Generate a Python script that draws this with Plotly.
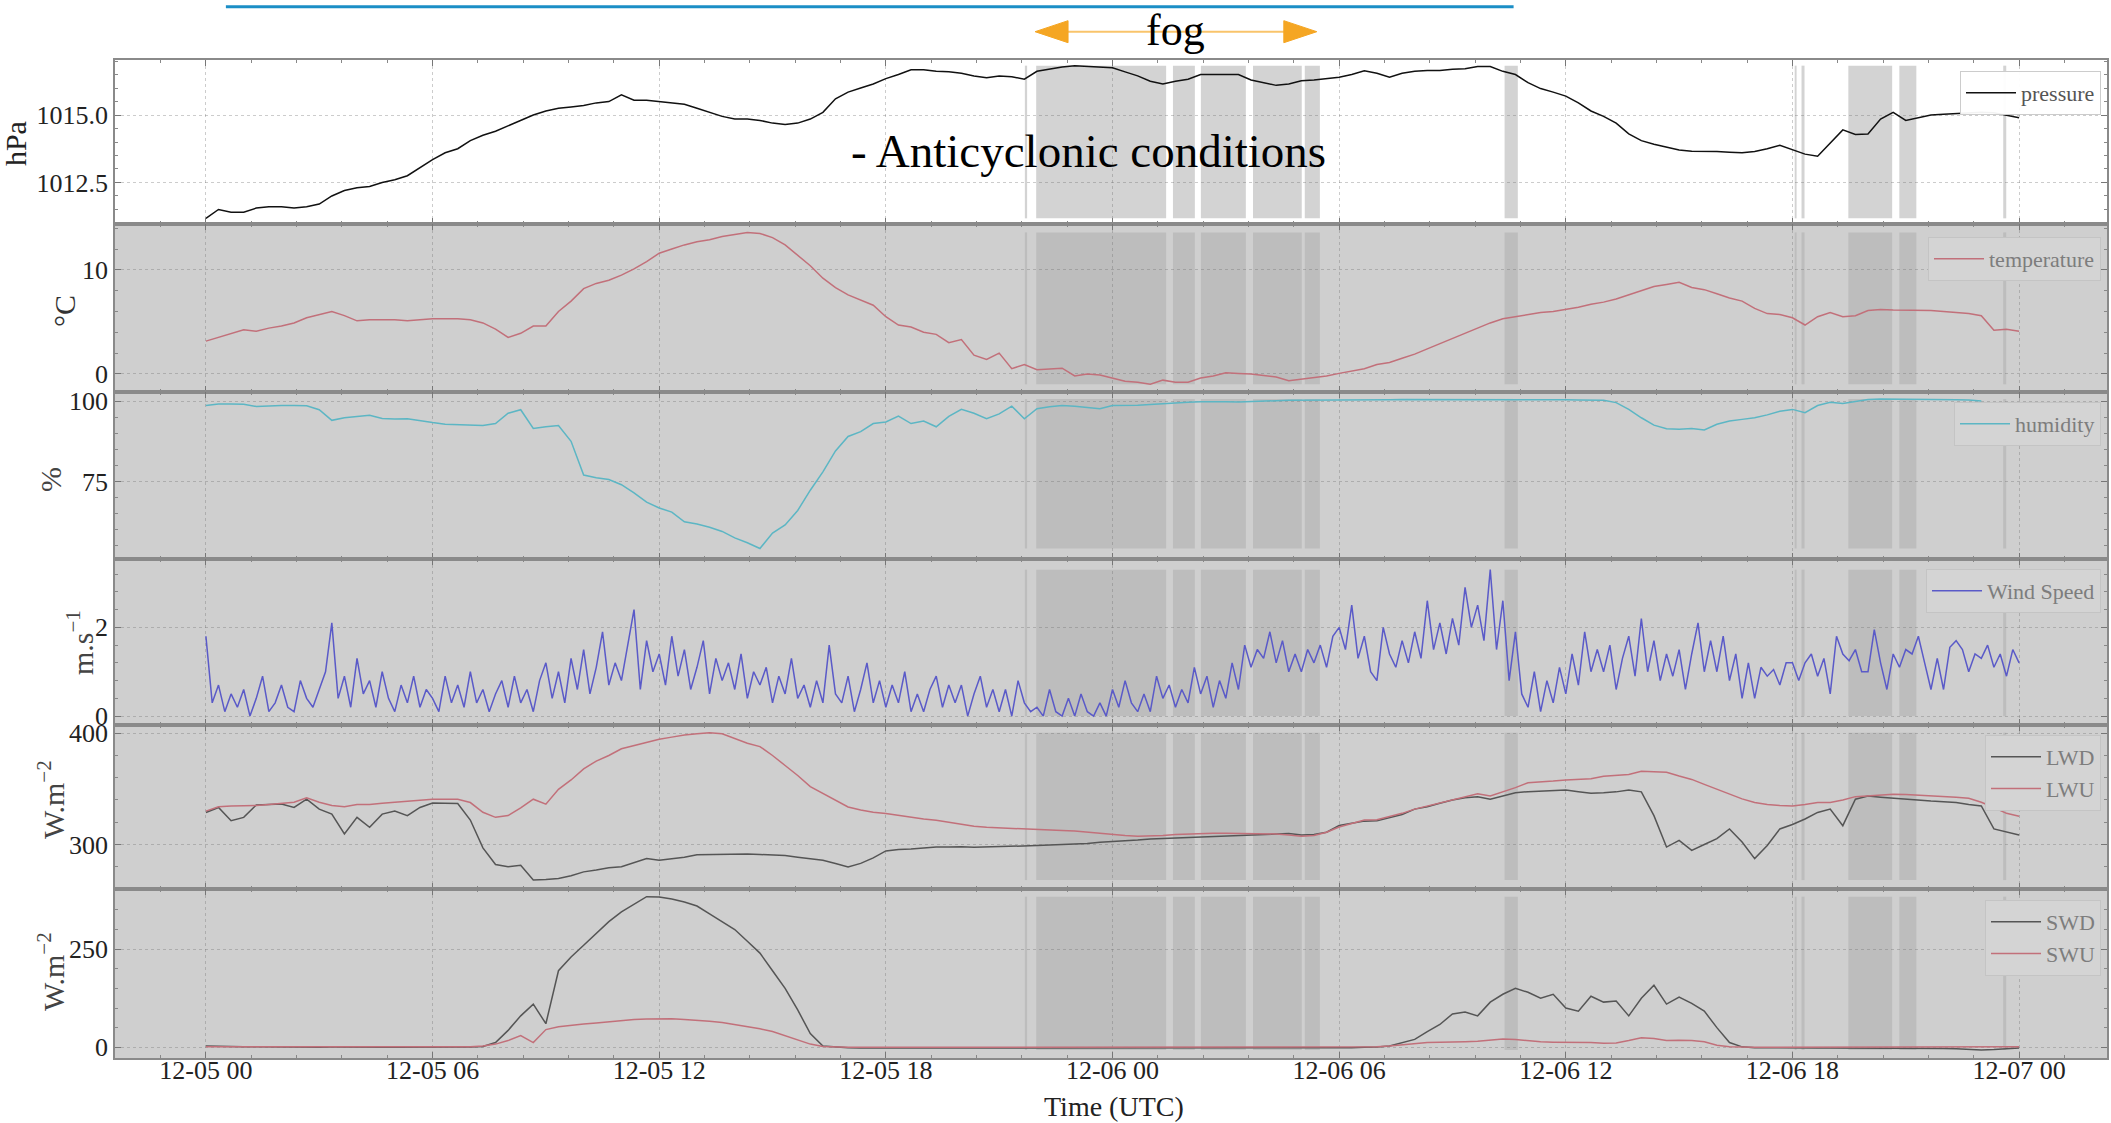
import numpy as np
import pandas as pd
import plotly.graph_objects as go
from plotly.subplots import make_subplots

# ---------------- data ----------------
# 20-minute samples starting 2016-12-05 00:00 (rows = hours)
pressure = [
    1011.17, 1011.50, 1011.40,   # 0
    1011.40, 1011.55, 1011.60,   # 1
    1011.60, 1011.55, 1011.60,   # 2
    1011.70, 1012.00, 1012.20,   # 3
    1012.30, 1012.35, 1012.50,   # 4
    1012.60, 1012.75, 1013.05,   # 5
    1013.35, 1013.60, 1013.75,   # 6
    1014.05, 1014.25, 1014.40,   # 7
    1014.60, 1014.80, 1015.00,   # 8
    1015.15, 1015.25, 1015.30,   # 9
    1015.35, 1015.45, 1015.50,   # 10
    1015.75, 1015.55, 1015.55,   # 11
    1015.50, 1015.45, 1015.40,   # 12
    1015.25, 1015.10, 1014.95,   # 13
    1014.85, 1014.85, 1014.80,   # 14
    1014.70, 1014.65, 1014.70,   # 15
    1014.85, 1015.10, 1015.60,   # 16
    1015.85, 1016.00, 1016.15,   # 17
    1016.35, 1016.50, 1016.68,   # 18
    1016.68, 1016.62, 1016.60,   # 19
    1016.55, 1016.45, 1016.38,   # 20
    1016.45, 1016.42, 1016.33,   # 21
    1016.62, 1016.70, 1016.78,   # 22
    1016.83, 1016.80, 1016.77,   # 23
    1016.75, 1016.60, 1016.45,   # 24
    1016.25, 1016.15, 1016.25,   # 25
    1016.33, 1016.50, 1016.50,   # 26
    1016.50, 1016.50, 1016.30,   # 27
    1016.20, 1016.10, 1016.15,   # 28
    1016.27, 1016.30, 1016.35,   # 29
    1016.40, 1016.50, 1016.64,   # 30
    1016.55, 1016.40, 1016.55,   # 31
    1016.62, 1016.65, 1016.65,   # 32
    1016.70, 1016.72, 1016.80,   # 33
    1016.80, 1016.62, 1016.50,   # 34
    1016.20, 1015.98, 1015.85,   # 35
    1015.70, 1015.45, 1015.15,   # 36
    1014.95, 1014.70, 1014.30,   # 37
    1014.05, 1013.92, 1013.82,   # 38
    1013.70, 1013.66, 1013.66,   # 39
    1013.65, 1013.62, 1013.60,   # 40
    1013.65, 1013.75, 1013.88,   # 41
    1013.72, 1013.55, 1013.47,   # 42
    1013.95, 1014.45, 1014.28,   # 43
    1014.30, 1014.85, 1015.10,   # 44
    1014.80, 1014.90, 1015.00,   # 45
    1015.03, 1015.05, 1015.08,   # 46
    1015.10, 1015.08, 1015.00,   # 47
    1014.90]                     # 48

temperature = [
    3.15, 3.5, 3.9,    4.25, 4.1, 4.4,    4.6, 4.9, 5.4,    5.7, 6.0, 5.6,     # 0-3
    5.1, 5.2, 5.2,     5.2, 5.1, 5.2,     5.3, 5.3, 5.3,    5.2, 4.9, 4.3,     # 4-7
    3.5, 3.9, 4.6,     4.6, 6.0, 7.0,     8.2, 8.7, 9.0,    9.5, 10.1, 10.8,   # 8-11
    11.6, 12.0, 12.4,  12.7, 12.9, 13.2,  13.4, 13.6, 13.5, 13.1, 12.4, 11.4,  # 12-15
    10.4, 9.2, 8.3,    7.6, 7.1, 6.6,     5.5, 4.7, 4.5,    4.0, 3.8, 3.0,     # 16-19
    3.3, 1.8, 1.4,     2.0, 0.5, 0.9,     0.4, 0.5, 0.55,   -0.2, 0.0, -0.1,   # 20-23
    -0.4, -0.7, -0.8,  -1.0, -0.6, -0.8,  -0.8, -0.4, -0.2, 0.1, 0.05, 0.0,    # 24-27
    -0.15, -0.3, -0.65, -0.5, -0.35, -0.2, 0.05, 0.3, 0.5,  0.9, 1.1, 1.5,     # 28-31
    1.9, 2.4, 2.9,     3.4, 3.9, 4.4,     4.9, 5.3, 5.5,    5.7, 5.9, 6.0,     # 32-35
    6.2, 6.4, 6.7,     6.9, 7.2, 7.6,     8.0, 8.4, 8.6,    8.8, 8.3, 8.1,     # 36-39
    7.7, 7.3, 7.0,     6.3, 5.8, 5.7,     5.4, 4.7, 5.5,    5.9, 5.5, 5.6,     # 40-43
    6.1, 6.2, 6.15,    6.15, 6.15, 6.1,   6.0, 5.9, 5.8,    5.6, 4.2, 4.3,     # 44-47
    4.1]                                                                       # 48

humidity = [
    98.6, 99.1, 99.1,   99.0, 98.3, 98.5,   98.6, 98.6, 98.5,   97.3, 94.0, 94.8,    # 0-3
    95.2, 95.6, 94.6,   94.4, 94.5, 93.8,   93.3, 92.8, 92.6,   92.5, 92.4, 93.0,    # 4-7
    96.2, 97.3, 91.5,   92.0, 92.4, 87.5,   77.0, 76.2, 75.6,   74.0, 71.5, 68.6,    # 8-11
    66.8, 65.5, 62.5,   61.8, 60.8, 59.5,   57.5, 56.0, 54.2,   59.0, 61.5, 66.0,    # 12-15
    72.3, 78.0, 84.5,   89.0, 90.5, 93.0,   93.5, 95.3, 93.0,   93.8, 92.0, 95.2,    # 16-19
    97.4, 96.2, 94.5,   96.0, 98.4, 94.5,   97.6, 98.2, 98.6,   98.4, 97.9, 97.6,    # 20-23
    98.6, 98.6, 98.7,   98.9, 99.2, 99.3,   99.6, 99.8, 99.9,   99.8, 99.7, 99.9,    # 24-27
    100.0, 100.1, 100.2, 100.2, 100.3, 100.3, 100.3, 100.3, 100.4, 100.4, 100.4, 100.5,  # 28-31
    100.5, 100.5, 100.5, 100.5, 100.6, 100.6, 100.6, 100.6, 100.5, 100.5, 100.5, 100.4,  # 32-35
    100.4, 100.3, 100.3, 100.2, 99.5, 97.4,  94.8, 92.5, 91.4,  91.2, 91.5, 91.0,    # 36-39
    92.8, 93.8, 94.3,   94.8, 95.7, 96.8,   97.4, 96.4, 98.6,   99.6, 99.2, 99.8,    # 40-43
    100.5, 100.6, 100.6, 100.6, 100.6, 100.5, 100.5, 100.4, 100.3,                    # 44-46
    100.0]                                                                           # 47

# 10-minute samples (rows = hours)
wind_speed = [
    1.8, 0.3, 0.7, 0.1, 0.5, 0.2,     0.6, 0.0, 0.4, 0.9, 0.1, 0.3,     # 0-1
    0.7, 0.2, 0.1, 0.8, 0.4, 0.2,     0.6, 1.0, 2.1, 0.4, 0.9, 0.2,     # 2-3
    1.3, 0.5, 0.8, 0.2, 1.0, 0.4,     0.1, 0.7, 0.3, 0.9, 0.2, 0.6,     # 4-5
    0.4, 0.1, 0.9, 0.3, 0.7, 0.2,     1.0, 0.3, 0.6, 0.1, 0.5, 0.8,     # 6-7
    0.2, 0.9, 0.3, 0.6, 0.1, 0.8,     1.2, 0.4, 1.0, 0.3, 1.3, 0.6,     # 8-9
    1.5, 0.5, 1.1, 1.9, 0.7, 1.2,     0.8, 1.6, 2.4, 0.6, 1.7, 1.0,     # 10-11
    1.4, 0.7, 1.8, 0.9, 1.5, 0.6,     1.1, 1.7, 0.5, 1.3, 0.8, 1.2,     # 12-13
    0.6, 1.4, 0.4, 1.0, 0.7, 1.1,     0.3, 0.9, 0.5, 1.3, 0.4, 0.7,     # 14-15
    0.2, 0.8, 0.3, 1.6, 0.5, 0.3,     0.9, 0.1, 0.6, 1.2, 0.3, 0.8,     # 16-17
    0.2, 0.7, 0.3, 1.0, 0.1, 0.5,     0.1, 0.6, 0.9, 0.2, 0.7, 0.3,     # 18-19
    0.7, 0.0, 0.5, 0.9, 0.2, 0.6,     0.1, 0.6, 0.0, 0.8, 0.3, 0.1,     # 20-21
    0.2, 0.0, 0.6, 0.1, 0.0, 0.4,     0.0, 0.5, 0.1, 0.0, 0.3, 0.0,     # 22-23
    0.6, 0.2, 0.8, 0.3, 0.1, 0.5,     0.1, 0.9, 0.4, 0.7, 0.2, 0.6,     # 24-25
    0.3, 1.1, 0.5, 0.9, 0.2, 0.8,     0.4, 1.2, 0.6, 1.6, 1.1, 1.5,     # 26-27
    1.3, 1.9, 1.2, 1.7, 1.0, 1.4,     1.0, 1.5, 1.2, 1.6, 1.1, 1.8,     # 28-29
    2.0, 1.5, 2.5, 1.3, 1.8, 1.0,     0.8, 2.0, 1.4, 1.1, 1.7, 1.2,     # 30-31
    1.9, 1.3, 2.6, 1.5, 2.1, 1.4,     2.2, 1.6, 2.9, 2.0, 2.5, 1.7,     # 32-33
    3.3, 1.5, 2.6, 0.8, 1.9, 0.5,     0.2, 1.0, 0.1, 0.8, 0.3, 1.1,     # 34-35
    0.5, 1.4, 0.7, 1.9, 1.0, 1.5,     1.0, 1.6, 0.6, 1.3, 1.8, 0.9,     # 36-37
    2.2, 1.0, 1.7, 0.8, 1.4, 0.9,     1.5, 0.6, 1.4, 2.1, 1.0, 1.7,     # 38-39
    1.0, 1.8, 0.8, 1.4, 0.4, 1.2,     0.4, 1.1, 0.9, 1.05, 0.7, 1.2,    # 40-41
    1.2, 0.8, 1.2, 1.4, 0.9, 1.3,     0.5, 1.8, 1.4, 1.25, 1.5, 1.0,    # 42-43
    1.0, 1.95, 1.2, 0.6, 1.4, 1.1,    1.5, 1.4, 1.8, 1.2, 0.6, 1.3,     # 44-45
    0.6, 1.55, 1.7, 1.5, 1.0, 1.4,    1.3, 1.6, 1.1, 1.4, 0.9, 1.5,     # 46-47
    1.2]                                                                # 48

# 20-minute samples (rows = hours)
lwd = [
    328.8, 333.3, 321.4,  324.4, 335.5, 336.0,  336.4, 333.3, 340.7,  331.8, 327.3, 309.5,  # 0-3
    324.4, 315.5, 327.3,  330.0, 325.9, 333.3,  337.3, 337.0, 336.8,  322.0, 297.0, 282.0,  # 4-7
    280.0, 281.3, 268.0,  268.5, 269.5, 272.0,  275.4, 277.0, 279.0,  280.0, 284.0, 287.3,  # 8-11
    285.8, 287.0, 288.5,  290.8, 291.0, 291.0,  291.0, 291.5, 291.0,  290.6, 290.0, 288.5,  # 12-15
    287.0, 285.9, 283.0,  279.8, 283.0, 288.0,  294.2, 295.5, 296.0,  297.0, 297.8, 297.8,  # 16-19
    298.0, 297.5, 297.8,  298.0, 297.8, 298.5,  299.0, 299.5, 300.0,  300.2, 301.0, 302.0,  # 20-23
    302.5, 303.0, 304.0,  305.0, 305.5, 306.0,  306.5, 307.0, 307.4,  307.4, 308.0, 308.5,  # 24-27
    309.0, 309.5, 309.8,  308.6, 309.0, 311.0,  317.0, 319.0, 321.0,  321.4, 324.0, 327.0,  # 28-31
    331.8, 334.0, 337.0,  340.0, 342.0, 343.0,  340.7, 344.0, 346.6,  347.5, 348.0, 348.5,  # 32-35
    348.9, 347.5, 346.0,  346.5, 347.3, 349.0,  347.3, 325.9, 297.7,  303.7, 294.7, 300.0,  # 36-39
    305.2, 314.0, 302.2,  287.3, 299.1, 314.0,  318.0, 322.9, 328.8,  331.8, 316.9, 340.7,  # 40-43
    343.6, 342.5, 341.5,  340.7, 340.0, 339.0,  338.5, 337.7, 336.0,  334.7, 314.0, 311.0,  # 44-47
    308.6]                                                                                 # 48

lwu = [
    330.0, 334.0, 334.5,  334.8, 335.0, 336.0,  337.0, 338.0, 342.0,  338.0, 335.0, 334.0,  # 0-3
    336.0, 336.0, 337.0,  338.0, 339.0, 340.0,  340.7, 340.7, 340.7,  337.7, 329.0, 324.4,  # 4-7
    326.0, 333.0, 340.7,  336.2, 349.6, 358.0,  368.0, 375.0, 380.0,  386.0, 389.0, 392.0,  # 8-11
    394.6, 396.5, 398.5,  399.5, 400.5, 399.6,  395.0, 391.0, 388.0,  380.0, 371.0, 362.0,  # 12-15
    352.0, 345.7, 340.0,  333.7, 331.0, 329.0,  327.8, 326.0, 324.5,  323.0, 321.8, 320.0,  # 16-19
    318.0, 316.5, 315.5,  315.0, 314.6, 313.8,  313.0, 312.8, 312.5,  312.2, 311.0, 310.0,  # 20-23
    309.0, 308.0, 307.4,  307.4, 308.0, 309.0,  309.5, 309.8, 310.0,  310.0, 309.8, 309.8,  # 24-27
    309.8, 309.5, 308.5,  307.4, 308.0, 311.0,  315.7, 319.0, 322.0,  322.2, 325.0, 328.0,  # 28-31
    331.8, 334.5, 337.0,  340.0, 342.5, 345.7,  343.6, 347.0, 351.1,  355.5, 356.0, 357.0,  # 32-35
    358.0, 358.5, 359.0,  361.4, 362.0, 363.0,  365.8, 365.5, 365.0,  361.5, 358.5, 354.0,  # 36-39
    349.6, 345.0, 341.0,  337.7, 336.0, 335.0,  334.7, 336.0, 337.7,  337.7, 340.0, 343.0,  # 40-43
    343.6, 344.5, 345.1,  345.0, 344.5, 344.0,  343.6, 342.5, 341.5,  338.0, 333.3, 328.0,  # 44-47
    325.3]                                                                                 # 48

swd = [
    3, 2, 1.5,   1, 1, 0.5,   0.5, 0, 0.5,   0, 0.5, 0,   0, 0.5, 0,   0, 0, 0.5,   # 0-5
    0, 0.5, 0.5,   0.5, 2, 12,   43, 80, 110,   60, 195, 230,                        # 6-9
    260, 290, 320,   345, 365, 383.8,   383, 378, 370,   360, 340, 320,              # 10-13
    300, 270, 240,   195, 150, 95,   35, 3, 0.5,   -1, -2, -2,                       # 14-17
    -2, -2, -2.5,   -2, -2, -2,   -2, -2.5, -2,   -2, -2, -2,                        # 18-21
    -2, -2, -2,   -2, -1.5, -2,   -2, -2, -2,   -2, -2, -1.5,                        # 22-25
    -1.5, -2, -2,   -2, -2, -1.5,   -1.5, -1.5, -1.5,   -1.5, -1, -1,                # 26-29
    -1, -1, 0,   0.5, 3, 12,   20, 40, 58,   85, 90, 80,                             # 30-33
    115, 135, 150,   140, 125, 135,   100, 92, 130,   115, 118, 80,                  # 34-37
    125, 158, 110,   128, 112, 92,   50, 12, 1,   -1, -1.5, -1.5,                    # 38-41
    -1.5, -1.5, -2,   -2, -2, -2,   -2, -2.5, -2.5,   -2.5, -3, -3,                  # 42-45
    -3, -4, -5,   -7, -6, -4,                                                        # 46-47
    -2]                                                                              # 48

swu = [
    1.5, 1, 1,   1, 1, 1,   1, 1, 1,   1, 1, 1,   1, 1, 1,   1, 1, 1,                # 0-5
    1, 1, 1,   1, 3, 8,   17, 30, 12,   45, 52, 56,                                  # 6-9
    59, 62, 65,   69, 71, 72,   73, 72.5, 71,   69, 66, 63,                          # 10-13
    58, 53, 47,   40, 30, 20,   8, 2, 0.5,   0, 0, 0,                                # 14-17
    0, 0, 0,   0, 0, 0,   0, 0, 0,   0, 0, 0,                                        # 18-21
    0, 0, 0,   0, 0, 0,   0, 0, 0,   0, 0, 0,                                        # 22-25
    0, 0, 0,   0, 0, 0,   0, 0, 0,   0, 0, 0,                                        # 26-29
    0, 0, 0,   1, 3, 6,   10, 12, 13,   13, 14, 15,                                  # 30-33
    18, 21, 20,   17, 14, 13,   13, 12, 12,   10, 11, 17,                            # 34-37
    24, 22, 17,   18, 17, 14,   5, 1, 0,   0, 0, 0,                                  # 38-41
    0, 0, 0,   0, 0, 0,   0, 0, 0,   0, 0, 0,                                        # 42-45
    0, 0, 0,   0, 0, 0.5,                                                            # 46-47
    1]                                                                               # 48

# fog / flagged periods (hours after 2016-12-05 00:00)
fog_start = [21.68, 21.98, 25.60, 26.34, 27.72, 29.09, 34.38, 42.06, 42.24, 43.48, 44.83, 47.58]
fog_end   = [21.74, 25.42, 26.18, 27.53, 29.01, 29.49, 34.73, 42.11, 42.32, 44.64, 45.28, 47.66]

# ---------------- figure ----------------
base = pd.Timestamp("2016-12-05 00:00")


def times(n, step_min):
    return [(base + pd.Timedelta(minutes=step_min * i)).strftime("%Y-%m-%d %H:%M:%S") for i in range(n)]


def hstamp(h):
    return (base + pd.Timedelta(hours=h)).strftime("%Y-%m-%d %H:%M:%S")


FONT = "Liberation Serif"
W, H = 2111, 1123
ML, MR, MT, MB = 115, 2, 60, 65
bounds = [60, 224, 392, 559, 725, 889, 1058]
heights = [bounds[i + 1] - bounds[i] for i in range(6)]

fig = make_subplots(rows=6, cols=1, shared_xaxes=True, vertical_spacing=0,
                    row_heights=heights)

RED = "#c2707a"
series = [
    (1, pressure, 20, "pressure", "#111111", "legend"),
    (2, temperature, 20, "temperature", RED, "legend2"),
    (3, humidity, 20, "humidity", "#5cb6c4", "legend3"),
    (4, wind_speed, 10, "Wind Speed", "#5a5ac8", "legend4"),
    (5, lwd, 20, "LWD", "#555555", "legend5"),
    (5, lwu, 20, "LWU", RED, "legend5"),
    (6, swd, 20, "SWD", "#555555", "legend6"),
    (6, swu, 20, "SWU", RED, "legend6"),
]
for row, vals, step, name, col, leg in series:
    fig.add_trace(go.Scatter(x=times(len(vals), step), y=vals, name=name, mode="lines",
                             line=dict(color=col, width=1.5), legend=leg),
                  row=row, col=1)

# backgrounds and fog bands
panel_vals = {1: pressure, 2: temperature, 3: humidity, 4: wind_speed,
              5: lwd + lwu, 6: swd + swu}
for row in range(1, 7):
    xn = "x" if row == 1 else f"x{row}"
    yn = "y" if row == 1 else f"y{row}"
    if row > 1:
        fig.add_shape(type="rect", xref=f"{xn} domain", yref=f"{yn} domain",
                      x0=0, x1=1, y0=0, y1=1, fillcolor="#cfcfcf",
                      line=dict(width=0), layer="below")
    lo, hi = min(panel_vals[row]), max(panel_vals[row])
    band_col = "#d3d3d3" if row == 1 else "#bdbdbd"
    for s, e in zip(fog_start, fog_end):
        fig.add_shape(type="rect", xref=xn, yref=yn, x0=hstamp(s), x1=hstamp(e),
                      y0=lo, y1=hi, fillcolor=band_col, line=dict(width=0),
                      layer="below")

# axes
px_per_h = (2021 - 206) / 48.0
t_left = -(206 - ML) / px_per_h
t_right = t_left + (W - ML - MR) / px_per_h
fig.update_xaxes(type="date", range=[hstamp(t_left), hstamp(t_right)],
                 tick0="2016-12-05 00:00", dtick=6 * 3600 * 1000,
                 tickformat="%m-%d %H", ticks="inside", ticklen=6, tickcolor="#777",
                 showline=True, linecolor="#8a8a8a", linewidth=1.5, mirror="allticks",
                 showgrid=True, gridcolor="rgba(110,110,110,0.35)", griddash="dot",
                 gridwidth=1,
                 minor=dict(dtick=int(1.2 * 3600 * 1000), tick0="2016-12-05 00:00",
                            ticks="inside", ticklen=3, tickcolor="#888", showgrid=False),
                 tickfont=dict(family=FONT, size=26, color="#222"))
fig.update_xaxes(showticklabels=False)
fig.update_xaxes(showticklabels=True, ticklabelstandoff=-12, row=6, col=1)

yspecs = [
    (1, [1010.96, 1017.04], 1012.5, 2.5, 0.5, ".1f"),
    (2, [-1.74, 14.41], 0, 10, 2, "d"),
    (3, [50.94, 102.8], 0, 25, 5, "d"),
    (4, [-0.2, 3.54], 0, 2, 0.4, "d"),
    (5, [260.0, 407.4], 0, 100, 20, "d"),
    (6, [-27.4, 403.3], 0, 250, 50, "d"),
]
for row, rng, t0, dt, mdt, fmt in yspecs:
    fig.update_yaxes(range=rng, tick0=t0, dtick=dt, tickformat=fmt,
                     ticks="inside", ticklen=6, tickcolor="#777",
                     showline=True, linecolor="#8a8a8a", linewidth=1.5, mirror="allticks",
                     showgrid=True, gridcolor="rgba(110,110,110,0.35)", griddash="dot",
                     zeroline=False,
                     minor=dict(dtick=mdt, tick0=t0, ticks="inside", ticklen=3,
                                tickcolor="#888", showgrid=False),
                     tickfont=dict(family=FONT, size=26, color="#222"),
                     row=row, col=1)


def py(y):
    return (bounds[-1] - y) / (bounds[-1] - bounds[0])


def pxp(x):
    return (x - ML) / (W - ML - MR)


# legends
legend_tops = {"legend": 71, "legend2": 237, "legend3": 402, "legend4": 569,
               "legend5": 735, "legend6": 900}
legend_layout = {}
for key, top in legend_tops.items():
    first = key == "legend"
    legend_layout[key] = dict(
        x=pxp(2103), xanchor="right", y=py(top), yanchor="top",
        bgcolor="rgba(255,255,255,0.95)" if first else "#d4d4d4",
        bordercolor="#cccccc" if first else "#c4c4c4", borderwidth=1,
        font=dict(family=FONT, size=22, color="#555" if first else "#7d7d7d"),
        itemwidth=50, tracegroupgap=2)

annotations = [
    dict(text="fog", x=pxp(1177), y=py(30), font=dict(family=FONT, size=44, color="#000")),
    dict(text="- Anticyclonic conditions", x=pxp(1089), y=py(151),
         font=dict(family=FONT, size=47, color="#000")),
    dict(text="Time (UTC)", x=pxp(1115), y=py(1106),
         font=dict(family=FONT, size=28, color="#222")),
]
ylabels = [("hPa", 16, 144, "#222"), ("°C", 64, 311, "#333"), ("%", 50, 480, "#444"),
           ("m.s<sup>−1</sup>", 80, 643, "#444"), ("W.m<sup>−2</sup>", 51, 800, "#444"),
           ("W.m<sup>−2</sup>", 51, 972, "#444")]
for txt, x, y, c in ylabels:
    annotations.append(dict(text=txt, x=pxp(x), y=py(y), textangle=-90,
                            font=dict(family=FONT, size=30, color=c)))
for a in annotations:
    a.update(xref="paper", yref="paper", showarrow=False, xanchor="center", yanchor="middle")

# decorations: blue bar and fog arrow
fig.add_shape(type="line", xref="paper", yref="paper", x0=pxp(226), x1=pxp(1515),
              y0=py(6.7), y1=py(6.7), line=dict(color="#1b8ec6", width=3))
fig.add_shape(type="line", xref="paper", yref="paper", x0=pxp(1066), x1=pxp(1288),
              y0=py(31.7), y1=py(31.7), line=dict(color="#f9c46b", width=2))
lt = f"M {pxp(1036)},{py(31.7)} L {pxp(1069)},{py(20.7)} L {pxp(1069)},{py(42.7)} Z"
rt = f"M {pxp(1318)},{py(31.7)} L {pxp(1285)},{py(20.7)} L {pxp(1285)},{py(42.7)} Z"
for p in (lt, rt):
    fig.add_shape(type="path", xref="paper", yref="paper", path=p,
                  fillcolor="#f5a623", line=dict(color="#f5a623", width=1))

fig.update_layout(width=W, height=H, margin=dict(l=ML, r=MR, t=MT, b=MB),
                  paper_bgcolor="white", plot_bgcolor="white",
                  font=dict(family=FONT, size=22, color="#222"),
                  showlegend=True, annotations=annotations, **legend_layout)

fig.write_html("out.html")
